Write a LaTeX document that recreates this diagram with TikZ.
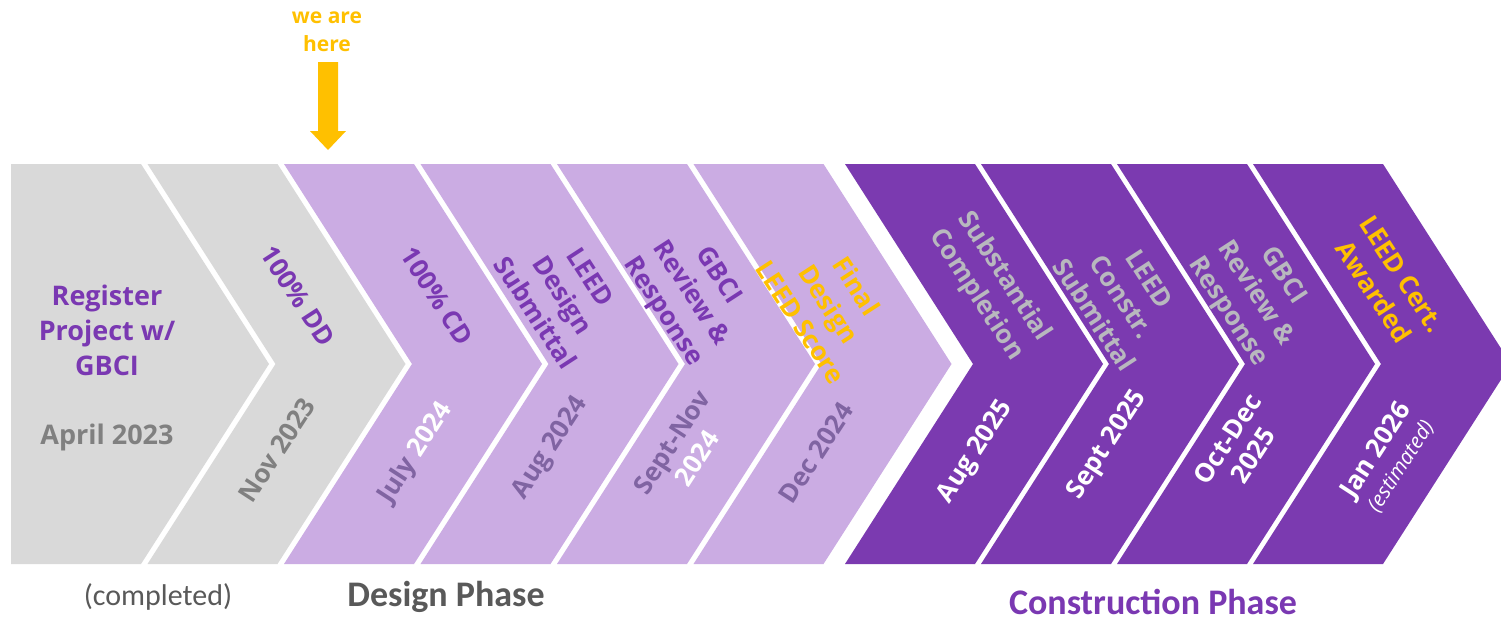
\documentclass[tikz,border=0pt]{standalone}
\usepackage{fontspec}
\setmainfont{Open Sans}
\newfontfamily\calib{Carlito}
\definecolor{greyfill}{HTML}{D9D9D9}
\definecolor{lightpurple}{HTML}{CBACE3}
\definecolor{darkpurple}{HTML}{7B3AB0}
\definecolor{purpletext}{HTML}{7A38B2}
\definecolor{gold}{HTML}{FFC000}
\definecolor{greytext}{HTML}{808080}
\definecolor{mutedpurple}{HTML}{8064A2}
\definecolor{lightgreytext}{HTML}{B8B8BE}
\definecolor{darkgreytext}{HTML}{595959}
\begin{document}
\begin{tikzpicture}[x=1pt,y=-1pt,
  lbl/.style={font=\bfseries\fontsize{27}{35}\selectfont, align=center, inner sep=0pt},
  uprot/.style={lbl, font=\bfseries\fontsize{26}{33}\selectfont, rotate=-57},
  dnrot/.style={lbl, font=\bfseries\fontsize{26}{33}\selectfont, rotate=57},
  bottomlbl/.style={font=\calib\fontsize{30}{34}\selectfont, inner sep=0pt}]
\useasboundingbox (0,0) rectangle (1501,621);
\fill[white] (0,0) rectangle (1501,621);
\newcommand\chevshape[2]{\fill[#2] (#1,164) -- ++(130,0) -- ++(128,200) -- ++(-128,200) -- ++(-130,0) -- ++(128,-200) -- cycle;}
\begin{scope}
\clip (0,0) rectangle (1501,621);
% pentagon
\fill[greyfill] (11,164) -- (141,164) -- (269,364) -- (141,564) -- (11,564) -- cycle;
\chevshape{147.5}{greyfill}
\chevshape{284}{lightpurple}
\chevshape{420.5}{lightpurple}
\chevshape{557}{lightpurple}
\chevshape{693.5}{lightpurple}
\chevshape{845}{darkpurple}
\chevshape{981}{darkpurple}
\chevshape{1117}{darkpurple}
\chevshape{1253}{darkpurple}
\end{scope}

% we are here
\node[lbl, text=gold, font=\bfseries\fontsize{21}{28}\selectfont] (here) at (327,32) {we are\\here};
\fill[gold] (318,62) -- (338,62) -- (338,131) -- (346,131) -- (328,150) -- (310,131) -- (318,131) -- cycle;

% grey chevrons
\node[lbl, text=purpletext] (reg) at (107,330) {Register\\Project w/\\GBCI};
\node[lbl, text=greytext] (apr) at (107,437) {April 2023};
\node[uprot, text=purpletext] (dd) at (298,296) {100\% DD};
\node[dnrot, text=greytext] (nov) at (277,450) {Nov 2023};

% light purple chevrons
\node[uprot, text=purpletext] (cd) at (437,296) {100\% CD};
\node[dnrot] (jul) at (416,453) {\textcolor{mutedpurple}{July} \textcolor{white}{2024}};
\node[uprot, text=purpletext] (lds) at (563,295) {LEED\\Design\\Submittal};
\node[dnrot, text=mutedpurple] (aug24) at (551,448) {Aug 2024};
\node[uprot, text=purpletext] (gbci1) at (690,294) {GBCI\\Review \&\\Response};
\node[dnrot, font=\bfseries\fontsize{26}{30}\selectfont] (sept24) at (684,450) {\textcolor{mutedpurple}{Sept-Nov}\\\textcolor{white}{2024}};
\node[uprot, text=gold] (final) at (829,304) {Final\\Design\\LEED Score};
\node[dnrot, text=mutedpurple] (dec24) at (816,453) {Dec 2024};

% dark purple chevrons
\node[uprot, text=lightgreytext] (subst) at (990,286) {Substantial\\Completion};
\node[dnrot, text=white] (aug25) at (976,452) {Aug 2025};
\node[uprot, text=lightgreytext] (lcs) at (1122,297) {LEED\\Constr.\\Submittal};
\node[dnrot, text=white] (sept25) at (1108,445) {Sept 2025};
\node[uprot, text=lightgreytext] (gbci2) at (1255,294) {GBCI\\Review \&\\Response};
\node[dnrot, text=white, font=\bfseries\fontsize{26}{30}\selectfont] (oct25) at (1240,447) {Oct-Dec\\2025};
\node[dnrot, text=white, font=\bfseries\fontsize{26}{28}\selectfont] (jan26) at (1388,458) {Jan 2026\\{\normalfont\itshape\fontsize{21}{24}\selectfont (estimated)}};
\node[uprot, text=gold] (cert) at (1388,283) {LEED Cert.\\Awarded};

% bottom labels
\node[bottomlbl, text=darkgreytext] (compl) at (158,597) {(completed)};
\node[bottomlbl, text=darkgreytext, font=\calib\bfseries\fontsize{36}{40}\selectfont] (design) at (446,597) {Design Phase};
\node[bottomlbl, text=purpletext, font=\calib\bfseries\fontsize{36}{40}\selectfont] (constr) at (1153,602) {Construction Phase};
\end{tikzpicture}
\end{document}
